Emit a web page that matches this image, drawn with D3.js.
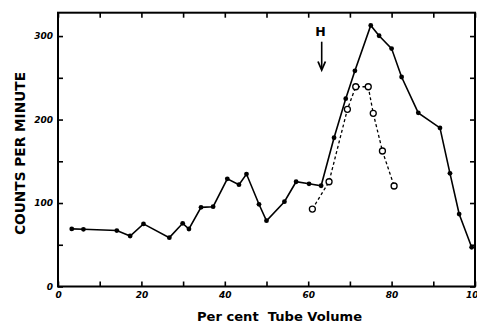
<!DOCTYPE html>
<html>
 <head>
  <meta charset="utf-8" />
  <title>Counts per minute vs tube volume</title>
  <style>
   body, html {
    margin: 0;
    padding: 0;
    overflow: hidden;
    background: #fff;
   }
   .axis path { display: none; }
   .axis line { stroke: #000; stroke-width: 1.6; }
   .axis text {
    font-family: "DejaVu Sans", sans-serif;
    font-style: italic;
    font-weight: bold;
    font-size: 9px;
    fill: #000;
   }
   .title {
    font-family: "DejaVu Sans", sans-serif;
    font-weight: bold;
    fill: #000;
   }
  </style>
  <script src="https://cdnjs.cloudflare.com/ajax/libs/d3/7.9.0/d3.min.js"></script>
 </head>
 <body>
  <svg width="477" height="323"></svg>
  <script>
   // solid line, filled dots
   const solidX = [3.3, 6.1, 14.1, 17.3, 20.5, 26.7, 29.9, 31.4, 34.3, 37.2, 40.6, 43.4, 45.2, 48.2, 50, 54.3, 57.1, 60.2, 63.1, 66.2, 69, 71.2, 75, 77, 80, 82.4, 86.4, 91.6, 94, 96.2, 99.2];
   const solidY = [69, 68.5, 67, 60.5, 75, 58.5, 75.7, 68.9, 94.8, 95.6, 129, 122, 134.7, 98.5, 78.8, 101.6, 125.5, 123, 120.7, 178.2, 225, 258.4, 312.8, 300.4, 285, 251, 208, 190, 135.6, 86.8, 47];
   // dashed line, open circles
   const dashX = [61, 65, 69.4, 71.4, 74.4, 75.6, 77.8, 80.6];
   const dashY = [92.8, 125.5, 212.2, 239.3, 239.3, 207.4, 162.3, 120.4];

   const xTicks = [0, 10, 20, 30, 40, 50, 60, 70, 80, 90, 100];
   const yTicks = [0, 50, 100, 150, 200, 250, 300];

   const mLeft = 58, mRight = 475, mTop = 12.7, mBottom = 286.5;

   const x = d3.scaleLinear().domain([0, 100]).range([mLeft, mRight]);
   const y = d3.scaleLinear().domain([0, 328]).range([mBottom, mTop]);

   const svg = d3.select("svg");

   // frame
   svg.append("rect")
    .attr("x", mLeft).attr("y", mTop)
    .attr("width", mRight - mLeft).attr("height", mBottom - mTop)
    .attr("fill", "none").attr("stroke", "#000").attr("stroke-width", 2);

   svg.append("g").attr("class", "axis")
    .attr("transform", `translate(0,${mBottom})`)
    .call(d3.axisBottom(x).tickValues(xTicks).tickSize(-5).tickPadding(5)
     .tickFormat(d => d % 20 === 0 ? d : ""));

   svg.append("g").attr("class", "axis")
    .attr("transform", `translate(0,${mTop})`)
    .call(d3.axisTop(x).tickValues(xTicks).tickSize(-5).tickFormat(""));

   svg.append("g").attr("class", "axis")
    .attr("transform", `translate(${mLeft},0)`)
    .call(d3.axisLeft(y).tickValues(yTicks).tickSize(-5).tickPadding(5)
     .tickFormat(d => d % 100 === 0 ? d : ""));

   svg.append("g").attr("class", "axis")
    .attr("transform", `translate(${mRight},0)`)
    .call(d3.axisRight(y).tickValues(yTicks).tickSize(-5).tickFormat(""));

   const solid = solidX.map((v, i) => [v, solidY[i]]);
   const dashed = dashX.map((v, i) => [v, dashY[i]]);
   const line = d3.line().x(d => x(d[0])).y(d => y(d[1]));

   svg.append("path").datum(dashed)
    .attr("d", line).attr("fill", "none")
    .attr("stroke", "#000").attr("stroke-width", 1.3)
    .attr("stroke-dasharray", "3,2.5");

   svg.append("path").datum(solid)
    .attr("d", line).attr("fill", "none")
    .attr("stroke", "#000").attr("stroke-width", 1.6);

   svg.selectAll(".dot").data(solid).enter().append("circle")
    .attr("cx", d => x(d[0])).attr("cy", d => y(d[1]))
    .attr("r", 2.4).attr("fill", "#000");

   svg.selectAll(".open").data(dashed).enter().append("circle")
    .attr("cx", d => x(d[0])).attr("cy", d => y(d[1]))
    .attr("r", 3).attr("fill", "#fff")
    .attr("stroke", "#000").attr("stroke-width", 1.3);

   // H marker with arrow
   svg.append("text").attr("class", "title")
    .attr("x", 320.5).attr("y", 35.7)
    .attr("text-anchor", "middle").attr("font-size", 12.5)
    .text("H");
   svg.append("line")
    .attr("x1", 321.7).attr("y1", 41.7).attr("x2", 321.7).attr("y2", 69)
    .attr("stroke", "#000").attr("stroke-width", 1.6);
   svg.append("path")
    .attr("d", "M318,61.5 L321.7,70 L325.4,61.5")
    .attr("fill", "none").attr("stroke", "#000").attr("stroke-width", 1.8);

   // axis titles
   svg.append("text").attr("class", "title")
    .attr("transform", "translate(24.5,153.5) rotate(-90)")
    .attr("text-anchor", "middle").attr("font-size", 14)
    .attr("textLength", 163).attr("lengthAdjust", "spacingAndGlyphs")
    .text("COUNTS PER MINUTE");

   svg.append("text").attr("class", "title")
    .attr("x", 279.5).attr("y", 321)
    .attr("text-anchor", "middle").attr("font-size", 12.5)
    .attr("textLength", 165).attr("lengthAdjust", "spacingAndGlyphs")
    .style("white-space", "pre")
    .text("Per cent  Tube Volume");
  </script>
 </body>
</html>
